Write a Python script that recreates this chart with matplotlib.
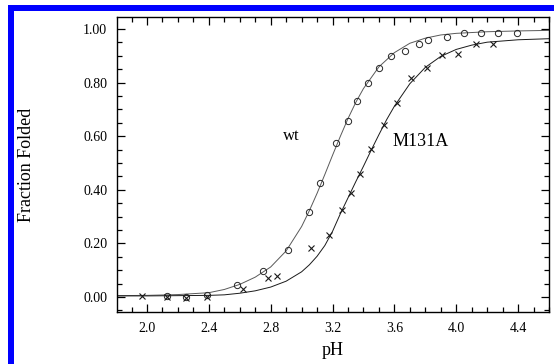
import matplotlib

matplotlib.use("Agg")

import matplotlib.pyplot as plt  # noqa: E402
from matplotlib.patches import Rectangle  # noqa: E402
from matplotlib.ticker import MultipleLocator, FormatStrFormatter  # noqa: E402

plt.rcParams["font.family"] = ["Liberation Serif", "DejaVu Serif"]

# measured points
wt_ph = [2.13, 2.25, 2.39, 2.58, 2.75, 2.91, 3.05, 3.12, 3.22, 3.30, 3.36, 3.43,
         3.50, 3.58, 3.67, 3.76, 3.82, 3.94, 4.05, 4.16, 4.27, 4.39]
wt_frac = [0.005, 0.000, 0.006, 0.045, 0.097, 0.177, 0.318, 0.427, 0.574, 0.658,
           0.732, 0.797, 0.853, 0.899, 0.919, 0.943, 0.961, 0.971, 0.984, 0.984,
           0.986, 0.986]

m131a_ph = [1.97, 2.13, 2.25, 2.39, 2.62, 2.78, 2.84, 3.06, 3.18, 3.26, 3.32, 3.38,
            3.45, 3.53, 3.62, 3.71, 3.81, 3.91, 4.01, 4.13, 4.24]
m131a_frac = [0.004, 0.001, -0.005, 0.000, 0.031, 0.070, 0.078, 0.182, 0.232, 0.323,
              0.389, 0.459, 0.551, 0.642, 0.725, 0.816, 0.853, 0.903, 0.907, 0.944,
              0.944]

# fitted curves
wt_fit_ph = [1.8, 2.0, 2.2, 2.4, 2.5, 2.6, 2.7, 2.8, 2.9, 3.0, 3.05, 3.1, 3.15, 3.2,
             3.25, 3.3, 3.35, 3.4, 3.5, 3.6, 3.7, 3.8, 3.9, 4.0, 4.2, 4.4, 4.6]
wt_fit = [0.005, 0.006, 0.009, 0.016, 0.028, 0.047, 0.074, 0.112, 0.172, 0.263, 0.322,
          0.387, 0.457, 0.529, 0.599, 0.666, 0.726, 0.778, 0.859, 0.912, 0.947, 0.966,
          0.978, 0.984, 0.990, 0.993, 0.995]

m131a_fit_ph = [1.8, 2.0, 2.2, 2.4, 2.5, 2.6, 2.7, 2.8, 2.9, 3.0, 3.05, 3.1, 3.15,
                3.2, 3.25, 3.3, 3.35, 3.4, 3.45, 3.5, 3.55, 3.6, 3.7, 3.8, 3.9, 4.0,
                4.1, 4.2, 4.4, 4.6]
m131a_fit = [0.004, 0.004, 0.005, 0.006, 0.008, 0.014, 0.023, 0.037, 0.059, 0.094,
             0.120, 0.152, 0.192, 0.245, 0.310, 0.370, 0.430, 0.488, 0.548, 0.606,
             0.662, 0.712, 0.796, 0.857, 0.898, 0.924, 0.940, 0.951, 0.960, 0.964]

fig = plt.figure(figsize=(5.54, 3.64), dpi=100)
ax = fig.add_axes((0.2112, 0.1429, 0.7798, 0.8104))

ax.plot(wt_fit_ph, wt_fit, color="0.35", lw=0.7)
ax.plot(m131a_fit_ph, m131a_fit, color="0.1", lw=0.7)
ax.plot(wt_ph, wt_frac, ls="none", marker="o", ms=4.5, mfc="none", mec="0.15", mew=0.7)
ax.plot(m131a_ph, m131a_frac, ls="none", marker="x", ms=5, mec="0.1", mew=0.8)

ax.set_xlim(1.806, 4.60)
ax.set_ylim(-0.056, 1.045)
ax.xaxis.set_major_locator(MultipleLocator(0.4))
ax.xaxis.set_minor_locator(MultipleLocator(0.1))
ax.yaxis.set_major_locator(MultipleLocator(0.2))
ax.yaxis.set_minor_locator(MultipleLocator(0.05))
ax.xaxis.set_major_formatter(FormatStrFormatter("%.1f"))
ax.yaxis.set_major_formatter(FormatStrFormatter("%.2f"))
ax.tick_params(which="both", direction="in", top=True, right=True, labelsize=10,
               width=0.9, colors="black")
ax.tick_params(which="major", length=6, pad=7)
ax.tick_params(which="minor", length=3.5)
for s in ax.spines.values():
    s.set_linewidth(1.0)

ax.set_xlabel("pH", fontsize=13, labelpad=5)
ax.set_ylabel("Fraction Folded", fontsize=13)
ax.yaxis.set_label_coords(-0.19, 0.5)

ax.text(2.93, 0.60, "wt", fontsize=12, ha="center", va="center")
ax.text(3.77, 0.58, "M131A", fontsize=13, ha="center", va="center")

# blue frame on the left and top edges
fig.patches.append(Rectangle((8 / 554, 0), 6 / 554, 1 - 5 / 364,
                             transform=fig.transFigure, color="#0000ff", lw=0))
fig.patches.append(Rectangle((8 / 554, 1 - 11 / 364), 1 - 8 / 554, 6 / 364,
                             transform=fig.transFigure, color="#0000ff", lw=0))

fig.savefig("out.png", dpi=100)
